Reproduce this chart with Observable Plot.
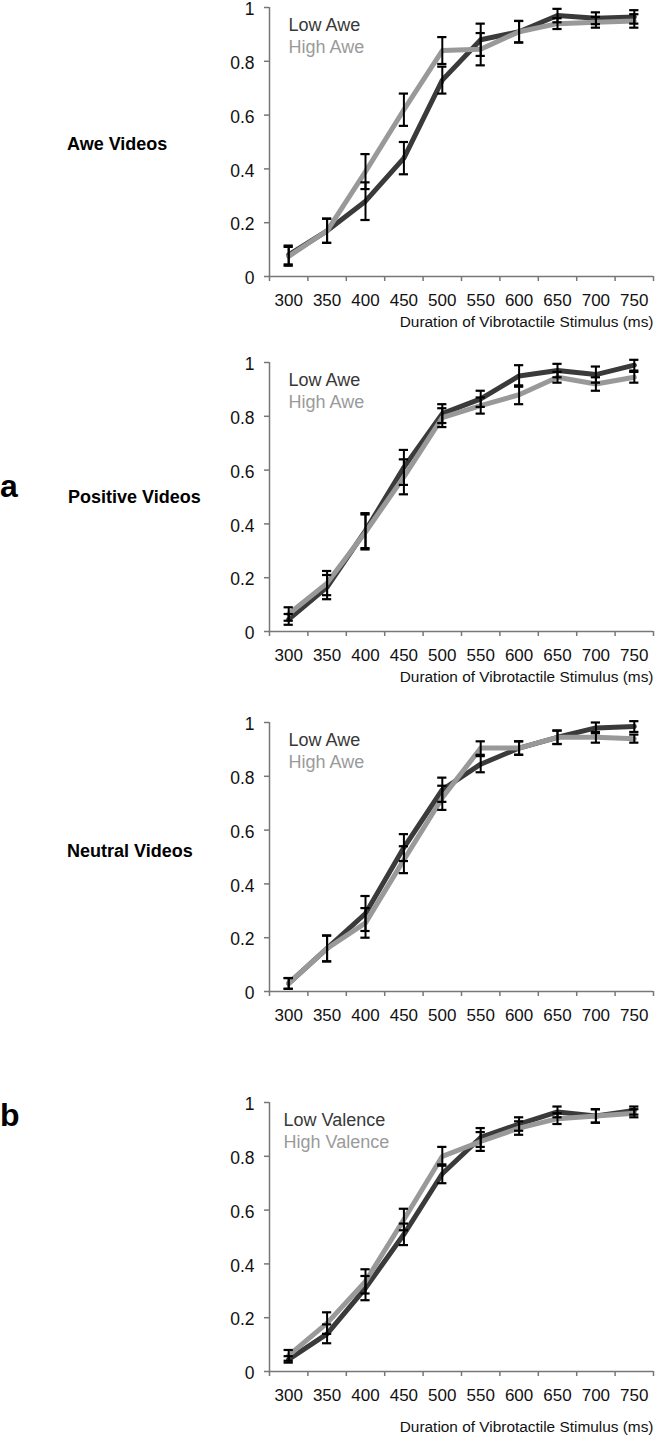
<!DOCTYPE html>
<html>
<head>
<meta charset="utf-8">
<script src="https://cdn.jsdelivr.net/npm/d3@7"></script>
<script src="https://cdn.jsdelivr.net/npm/@observablehq/plot@0.6"></script>
<style>
  body { margin: 0; background: #fff; }
  #root { position: relative; width: 657px; height: 1438px; overflow: hidden;
          font-family: "Liberation Sans", Arial, Helvetica, sans-serif; }
  .lab { position: absolute; font-weight: bold; color: #000; white-space: nowrap; line-height: 1; }
  .panel { position: absolute; left: 0; }
</style>
</head>
<body>
<div id="root"></div>
<script>
// ---- data ----
const durations = [300, 350, 400, 450, 500, 550, 600, 650, 700, 750];
const yTicks = [0, 0.2, 0.4, 0.6, 0.8, 1];
const xTitle = "Duration of Vibrotactile Stimulus (ms)";

const panelNames = ["Awe Videos", "Positive Videos", "Neutral Videos", ""];
const legendAwe = ["Low Awe", "High Awe"];
const legendValence = ["Low Valence", "High Valence"];

// Awe videos
const aweLow      = [0.08, 0.17, 0.28, 0.44, 0.73, 0.88, 0.91, 0.97, 0.96, 0.965];
const aweLowErr   = [0.035, 0.045, 0.07, 0.06, 0.05, 0.06, 0.04, 0.025, 0.022, 0.025];
const aweHigh     = [0.075, 0.17, 0.39, 0.62, 0.84, 0.845, 0.91, 0.94, 0.945, 0.95];
const aweHighErr  = [0.035, 0.045, 0.065, 0.06, 0.05, 0.06, 0.04, 0.02, 0.02, 0.025];

// Positive videos
const posLow      = [0.045, 0.165, 0.375, 0.61, 0.81, 0.865, 0.95, 0.97, 0.955, 0.99];
const posLowErr   = [0.02, 0.045, 0.065, 0.065, 0.035, 0.03, 0.04, 0.025, 0.03, 0.02];
const posHigh     = [0.065, 0.18, 0.37, 0.575, 0.795, 0.84, 0.88, 0.945, 0.92, 0.945];
const posHighErr  = [0.025, 0.045, 0.065, 0.065, 0.035, 0.03, 0.035, 0.02, 0.025, 0.02];

// Neutral videos
const neuLow      = [0.03, 0.16, 0.29, 0.535, 0.75, 0.845, 0.905, 0.945, 0.98, 0.985];
const neuLowErr   = [0.02, 0.048, 0.065, 0.05, 0.045, 0.03, 0.025, 0.025, 0.02, 0.02];
const neuHigh     = [0.03, 0.16, 0.255, 0.49, 0.72, 0.905, 0.905, 0.945, 0.945, 0.94];
const neuHighErr  = [0.02, 0.048, 0.055, 0.05, 0.045, 0.025, 0.025, 0.025, 0.02, 0.015];

// Valence (panel b)
const valLow      = [0.045, 0.14, 0.31, 0.51, 0.735, 0.87, 0.92, 0.965, 0.95, 0.97];
const valLowErr   = [0.012, 0.035, 0.045, 0.04, 0.035, 0.035, 0.025, 0.02, 0.025, 0.015];
const valHigh     = [0.06, 0.18, 0.335, 0.565, 0.80, 0.855, 0.905, 0.94, 0.95, 0.96];
const valHighErr  = [0.02, 0.04, 0.045, 0.04, 0.035, 0.035, 0.025, 0.02, 0.025, 0.015];

// ---- styling / layout ----
const darkColor = "#3a3a3a";
const lightColor = "#999999";
const axisColor = "#777";
const font = '"Liberation Sans", Arial, Helvetica, sans-serif';
const bounds = durations.map(d => d - 25).concat([durations[durations.length - 1] + 25]);
const capHalf = 6; // ms

const panels = [
  {top: 7,    low: aweLow, lowErr: aweLowErr, high: aweHigh, highErr: aweHighErr, legend: legendAwe, legDx: 19, title: true, titleDy: 46},
  {top: 362,  low: posLow, lowErr: posLowErr, high: posHigh, highErr: posHighErr, legend: legendAwe, legDx: 19, title: true, titleDy: 46},
  {top: 722,  low: neuLow, lowErr: neuLowErr, high: neuHigh, highErr: neuHighErr, legend: legendAwe, legDx: 19, title: false, titleDy: 46},
  {top: 1102, low: valLow, lowErr: valLowErr, high: valHigh, highErr: valHighErr, legend: legendValence, legDx: 14, title: true, titleDy: 56}
];

const root = document.getElementById("root");
const marginTop = 16, innerH = 269, marginBottom = 66;

panels.forEach((p, i) => {
  const rows = series => durations.map((d, j) => ({d, m: series[0][j], e: series[1][j]}));
  const lowRows = rows([p.low, p.lowErr]);
  const highRows = rows([p.high, p.highErr]);
  const allRows = lowRows.concat(highRows);

  const marks = [
    Plot.ruleY([0], {stroke: axisColor, strokeWidth: 1.5}),
    Plot.ruleX([bounds[0]], {stroke: axisColor, strokeWidth: 1.5}),
    Plot.axisX({ticks: bounds, tickSize: 5, tickFormat: () => "", stroke: axisColor, strokeWidth: 1.5, label: null}),
    Plot.axisX({ticks: durations, tickSize: 0, tickPadding: 17, tickFormat: d => String(d), fill: "#111", label: null, fontSize: 17}),
    Plot.axisY({ticks: yTicks, tickSize: 5, tickFormat: () => "", stroke: axisColor, strokeWidth: 1.5, label: null}),
    Plot.axisY({ticks: yTicks, tickSize: 0, tickPadding: 15, dy: 2, fill: "#111",
                tickFormat: d => String(+d.toFixed(1)), label: null, fontSize: 17.5}),
    Plot.line(lowRows, {x: "d", y: "m", stroke: darkColor, strokeWidth: 5, strokeLinejoin: "round"}),
    Plot.line(highRows, {x: "d", y: "m", stroke: lightColor, strokeWidth: 5, strokeLinejoin: "round"}),
    Plot.ruleX(allRows, {x: "d", y1: r => r.m - r.e, y2: r => r.m + r.e, stroke: "#000", strokeWidth: 2}),
    Plot.ruleY(allRows, {y: r => r.m + r.e, x1: r => r.d - capHalf, x2: r => r.d + capHalf, stroke: "#000", strokeWidth: 2.2}),
    Plot.ruleY(allRows, {y: r => r.m - r.e, x1: r => r.d - capHalf, x2: r => r.d + capHalf, stroke: "#000", strokeWidth: 2.2}),
    Plot.text([p.legend[0]], {frameAnchor: "top-left", dx: p.legDx, dy: 23, lineAnchor: "bottom", textAnchor: "start",
                              fill: "#383838", fontSize: 18}),
    Plot.text([p.legend[1]], {frameAnchor: "top-left", dx: p.legDx, dy: 45, lineAnchor: "bottom", textAnchor: "start",
                              fill: "#9a9a9a", fontSize: 18})
  ];
  if (p.title) {
    marks.push(Plot.text([xTitle], {frameAnchor: "bottom-right", dy: p.titleDy, lineAnchor: "middle", textAnchor: "end",
                                    fill: "#111", fontSize: 15.4}));
  }

  const chart = Plot.plot({
    width: 657,
    height: marginTop + innerH + marginBottom,
    marginTop, marginBottom,
    marginLeft: 269, marginRight: 4,
    style: {fontFamily: font, fontSize: "17px", background: "transparent", overflow: "visible"},
    x: {type: "linear", domain: [bounds[0], bounds[bounds.length - 1]], axis: null},
    y: {domain: [0, 1], axis: null},
    marks
  });
  const wrap = document.createElement("div");
  wrap.className = "panel";
  wrap.style.top = (p.top - marginTop) + "px";
  wrap.appendChild(chart);
  root.appendChild(wrap);
});

// left-side labels
const labels = [
  {text: panelNames[0], left: 67, baseline: 150, size: 18},
  {text: panelNames[1], left: 68, baseline: 503, size: 18},
  {text: panelNames[2], left: 67, baseline: 857, size: 18},
  {text: "a", left: 0, baseline: 497, size: 32},
  {text: "b", left: 0, baseline: 1126, size: 32}
];
labels.forEach(l => {
  const el = document.createElement("div");
  el.className = "lab";
  el.textContent = l.text;
  el.style.left = l.left + "px";
  el.style.fontSize = l.size + "px";
  el.style.top = (l.baseline - 0.8465 * l.size) + "px";
  root.appendChild(el);
});
</script>
</body>
</html>
